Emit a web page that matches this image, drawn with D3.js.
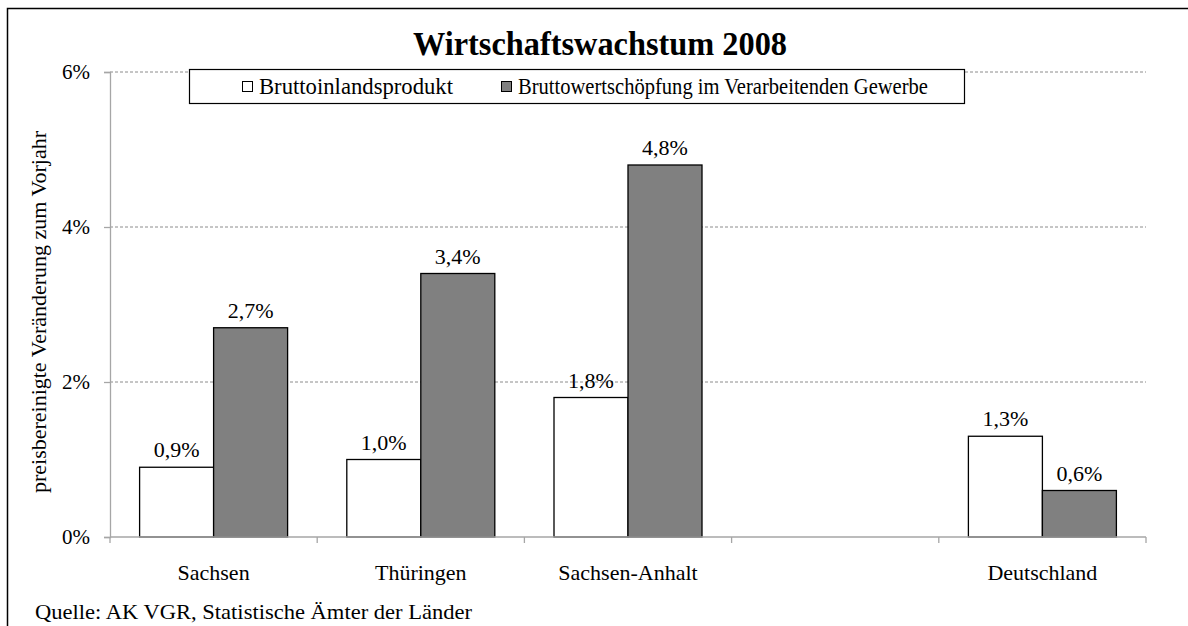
<!DOCTYPE html>
<html>
<head>
<meta charset="utf-8">
<script src="https://cdn.jsdelivr.net/npm/d3@7"></script>
<style>
  body { margin: 0; background: #fff; overflow: hidden; }
  text { font-family: "Liberation Serif", "Times New Roman", serif; fill: #000; }
</style>
</head>
<body>
<div id="chart"></div>
<script>
var categories = ["Sachsen", "Thüringen", "Sachsen-Anhalt", "", "Deutschland"];
var seriesNames = ["Bruttoinlandsprodukt", "Bruttowertschöpfung im Verarbeitenden Gewerbe"];
var bipValues = [0.9, 1.0, 1.8, null, 1.3];
var bwsValues = [2.7, 3.4, 4.8, null, 0.6];
var yTicks = [0, 2, 4, 6];
var colors = ["#ffffff", "#808080"];

var fullwidth = 1188;
var fullheight = 626;
var margin = { top: 72, right: 42, bottom: 89, left: 110 };
var width = fullwidth - margin.left - margin.right;
var height = fullheight - margin.top - margin.bottom;

var svg = d3.select("#chart")
  .append("svg")
  .attr("width", fullwidth)
  .attr("height", fullheight);

// outer frame (cut off at the right and bottom in the original)
svg.append("rect")
  .attr("x", 7.5)
  .attr("y", 8.5)
  .attr("width", 1300)
  .attr("height", 800)
  .attr("fill", "none")
  .attr("stroke", "#000")
  .attr("stroke-width", 1.5);

svg.append("text")
  .attr("x", 600)
  .attr("y", 55)
  .attr("text-anchor", "middle")
  .attr("font-size", 34)
  .attr("font-weight", "bold")
  .attr("textLength", 374)
  .attr("lengthAdjust", "spacingAndGlyphs")
  .text("Wirtschaftswachstum 2008");

var g = svg.append("g")
  .attr("transform", "translate(" + margin.left + "," + margin.top + ")");

var xScale = d3.scaleBand()
  .domain(categories)
  .range([0, width])
  .padding(0);

var xInner = d3.scaleBand()
  .domain([0, 1])
  .range([0, xScale.bandwidth()])
  .paddingInner(0)
  .paddingOuter(0.4);

var yScale = d3.scaleLinear()
  .domain([0, 6])
  .range([height, 0]);

// gridlines
g.append("g")
  .selectAll("line")
  .data(yTicks.filter(function(d) { return d > 0; }))
  .enter()
  .append("line")
  .attr("x1", 0)
  .attr("x2", width)
  .attr("y1", function(d) { return yScale(d); })
  .attr("y2", function(d) { return yScale(d); })
  .attr("stroke", "#8c8c8c")
  .attr("stroke-width", 1)
  .attr("stroke-dasharray", "3,2");

// y axis
var yAxis = d3.axisLeft(yScale)
  .tickValues(yTicks)
  .tickSize(6)
  .tickPadding(14)
  .tickFormat(function(d) { return d + "%"; });

var yAxisG = g.append("g").call(yAxis);
yAxisG.select(".domain").attr("stroke", "#a6a6a6").attr("stroke-width", 1.3);
yAxisG.selectAll(".tick line").attr("stroke", "#a6a6a6").attr("stroke-width", 1.3);
yAxisG.selectAll(".tick text")
  .attr("font-size", 21)
  .attr("font-family", "Liberation Serif")
  .attr("fill", "#000");

// bars
var data = categories.map(function(c, i) {
  return { cat: c, values: [bipValues[i], bwsValues[i]] };
});

var groups = g.selectAll("g.cat")
  .data(data)
  .enter()
  .append("g")
  .attr("class", "cat")
  .attr("transform", function(d) { return "translate(" + xScale(d.cat) + ",0)"; });

var bars = groups.selectAll("g.bar")
  .data(function(d) {
    return d.values.map(function(v, j) { return { s: j, v: v }; })
      .filter(function(e) { return e.v !== null; });
  })
  .enter()
  .append("g")
  .attr("class", "bar");

bars.append("rect")
  .attr("x", function(d) { return xInner(d.s); })
  .attr("y", function(d) { return yScale(d.v); })
  .attr("width", xInner.bandwidth())
  .attr("height", function(d) { return height - yScale(d.v); })
  .attr("fill", function(d) { return colors[d.s]; })
  .attr("stroke", "#000")
  .attr("stroke-width", 1.3);

bars.append("text")
  .attr("x", function(d) { return xInner(d.s) + xInner.bandwidth() / 2; })
  .attr("y", function(d) { return yScale(d.v) - 10; })
  .attr("text-anchor", "middle")
  .attr("font-size", 22)
  .text(function(d) { return d.v.toFixed(1).replace(".", ",") + "%"; });

// x axis
var xAxisG = g.append("g")
  .attr("transform", "translate(0," + height + ")");

xAxisG.append("line")
  .attr("x1", 0)
  .attr("x2", width)
  .attr("stroke", "#a6a6a6")
  .attr("stroke-width", 1.5);

xAxisG.selectAll("line.tick")
  .data(categories.concat(["end"]))
  .enter()
  .append("line")
  .attr("class", "tick")
  .attr("x1", function(d, i) { return i * xScale.step(); })
  .attr("x2", function(d, i) { return i * xScale.step(); })
  .attr("y1", 0)
  .attr("y2", 6)
  .attr("stroke", "#a6a6a6")
  .attr("stroke-width", 1.3);

xAxisG.selectAll("text")
  .data(categories)
  .enter()
  .append("text")
  .attr("x", function(d) { return xScale(d) + xScale.bandwidth() / 2; })
  .attr("y", 43)
  .attr("text-anchor", "middle")
  .attr("font-size", 22)
  .text(function(d) { return d; });

// y axis title
svg.append("text")
  .attr("transform", "translate(46,312) rotate(-90)")
  .attr("text-anchor", "middle")
  .attr("font-size", 22)
  .attr("textLength", 362)
  .attr("lengthAdjust", "spacingAndGlyphs")
  .text("preisbereinigte Veränderung zum Vorjahr");

// legend
var legend = svg.append("g");

legend.append("rect")
  .attr("x", 189.5)
  .attr("y", 69.5)
  .attr("width", 775)
  .attr("height", 34)
  .attr("fill", "#fff")
  .attr("stroke", "#000")
  .attr("stroke-width", 1.2);

var legendX = [242, 501];
var legendLen = [194, 410];
var legendItems = legend.selectAll("g.item")
  .data(seriesNames)
  .enter()
  .append("g")
  .attr("class", "item")
  .attr("transform", function(d, i) { return "translate(" + legendX[i] + ",0)"; });

legendItems.append("rect")
  .attr("x", 0.5)
  .attr("y", 81.5)
  .attr("width", 10)
  .attr("height", 10)
  .attr("fill", function(d, i) { return colors[i]; })
  .attr("stroke", "#000")
  .attr("stroke-width", 1);

legendItems.append("text")
  .attr("x", 17)
  .attr("y", 94)
  .attr("font-size", 23)
  .attr("textLength", function(d, i) { return legendLen[i]; })
  .attr("lengthAdjust", "spacingAndGlyphs")
  .text(function(d) { return d; });

// source note
svg.append("text")
  .attr("x", 35)
  .attr("y", 619)
  .attr("font-size", 22)
  .attr("textLength", 437)
  .attr("lengthAdjust", "spacingAndGlyphs")
  .text("Quelle: AK VGR, Statistische Ämter der Länder");
</script>
</body>
</html>
